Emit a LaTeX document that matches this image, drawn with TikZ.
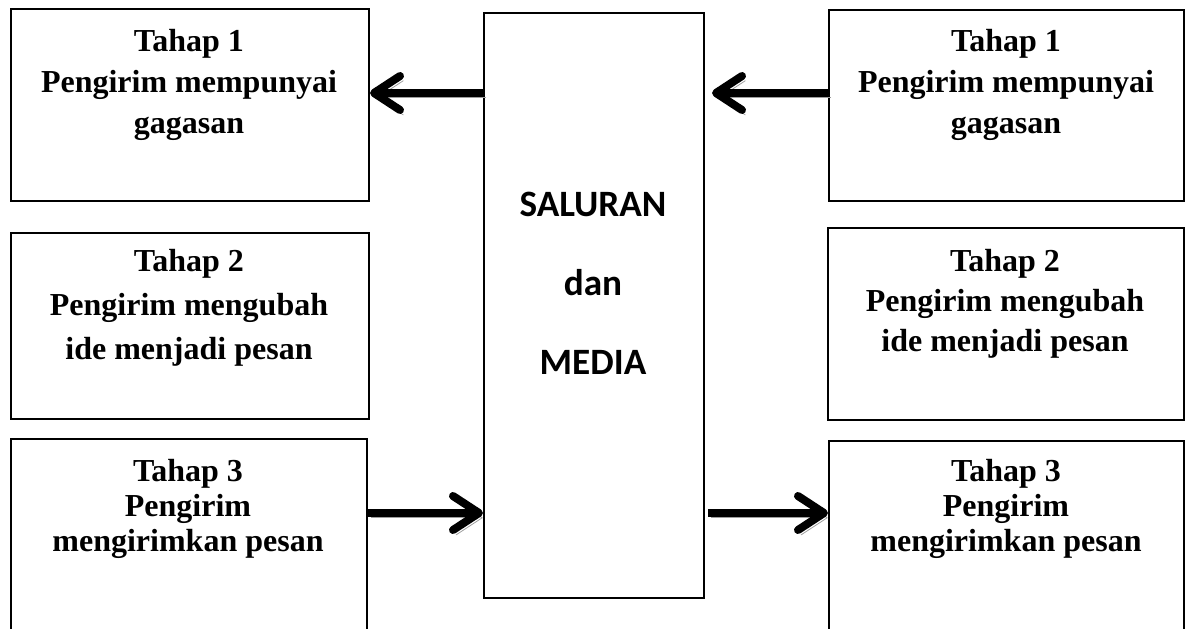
\documentclass[tikz,border=0pt]{standalone}
\usepackage{fontspec}
\setmainfont{Liberation Serif}
\newfontfamily\carlito{Carlito}
\usepackage{tikz}
\usetikzlibrary{arrows.meta,positioning}
\tikzstyle{kotak} = [rectangle, draw=black, line width=1pt, anchor=north west, inner sep=0pt]
\tikzstyle{teks} = [anchor=north, align=center, inner sep=0pt, font=\fontsize{16}{20.5}\selectfont\bfseries]
\tikzstyle{panah} = [line width=4pt, -{Straight Barb[length=13pt,width=17pt,round]}, preaction={draw=black!38, transform canvas={xshift=1.6pt,yshift=-2.4pt}}]

\begin{document}
\begin{tikzpicture}[x=0.5pt, y=-0.5pt]
\useasboundingbox (0,0) rectangle (1185,628);

% Kotak kiri
\node (kiri1) [kotak, minimum width=179pt, minimum height=96pt] at (10,8) {};
\node (kiri2) [kotak, minimum width=179pt, minimum height=93pt] at (10,232) {};
\node (kiri3) [kotak, minimum width=178pt, minimum height=101pt] at (10,438) {};

% Saluran dan media
\node (saluran) [kotak, minimum width=110pt, minimum height=292.5pt] at (483,12) {};

% Kotak kanan
\node (kanan1) [kotak, minimum width=177.5pt, minimum height=95.5pt] at (828,9) {};
\node (kanan2) [kotak, minimum width=178pt, minimum height=96pt] at (827,227) {};
\node (kanan3) [kotak, minimum width=177.5pt, minimum height=100pt] at (828,440) {};

% Teks
\node (tkiri1) [teks] at (189,29) {Tahap 1\\ Pengirim mempunyai\\ gagasan};
\node (tkiri2) [teks, font=\fontsize{16}{22}\selectfont\bfseries] at (189,249) {Tahap 2\\ Pengirim mengubah\\ ide menjadi pesan};
\node (tkiri3) [teks, font=\fontsize{16}{17.5}\selectfont\bfseries] at (188,459) {Tahap 3\\ Pengirim\\ mengirimkan pesan};
\node (tkanan1) [teks] at (1006,29) {Tahap 1\\ Pengirim mempunyai\\ gagasan};
\node (tkanan2) [teks, font=\fontsize{16}{20}\selectfont\bfseries] at (1005,249) {Tahap 2\\ Pengirim mengubah\\ ide menjadi pesan};
\node (tkanan3) [teks, font=\fontsize{16}{17.5}\selectfont\bfseries] at (1006,459) {Tahap 3\\ Pengirim\\ mengirimkan pesan};
\node (tsaluran) [teks, font=\carlito\fontsize{18.6}{39.5}\selectfont\bfseries] at (593,192) {SALURAN\\ dan\\ MEDIA};

% Panah
\coordinate (ujung2) at (712,93);
\coordinate (ekor4) at (708,513);
\draw [panah] (saluran.west |- 0,93) -- (kiri1.east |- 0,93);
\draw [panah] (kanan1.west |- 0,93) -- (ujung2);
\draw [panah] (kiri3.east |- 0,513) -- (saluran.west |- 0,513);
\draw [panah] (ekor4) -- (kanan3.west |- 0,513);

\end{tikzpicture}
\end{document}
